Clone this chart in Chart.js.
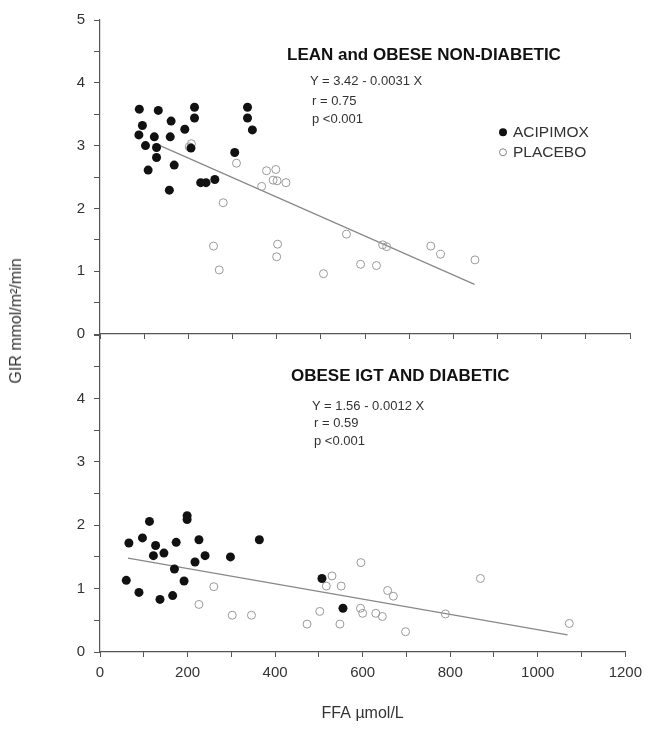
<!DOCTYPE html>
<html>
<head>
<meta charset="utf-8">
<script src="https://cdn.jsdelivr.net/npm/chart.js@4.4.1/dist/chart.umd.min.js"></script>
<style>
  body { margin: 0; background: #fff; }
  #wrap { position: relative; width: 649px; height: 729px; font-family: "Liberation Sans", Arial, sans-serif; color: #222; }
  #wrap canvas { position: absolute; left: 0; top: 0; }
  .txt { position: absolute; white-space: nowrap; line-height: 1; transform: translateY(-50%); }
  .title { font-weight: bold; font-size: 17px; color: #111; }
  .stat { font-size: 13px; color: #333; }
  .leg { font-size: 15.5px; color: #333; }
  .dot { display: inline-block; width: 8px; height: 8px; border-radius: 50%; margin-right: 6px; vertical-align: 1px; box-sizing: border-box; }
  #ytitle { position: absolute; left: 16px; top: 321px; font-size: 16px; color: #333; white-space: nowrap; transform: translate(-50%, -50%) rotate(-90deg); }
</style>
</head>
<body>
<div id="wrap">
  <canvas id="topChart" width="649" height="729"></canvas>
  <canvas id="botChart" width="649" height="729"></canvas>

  <div class="txt title" style="left:287px; top:54px;">LEAN and OBESE NON-DIABETIC</div>
  <div class="txt stat" style="left:310px; top:80px;">Y = 3.42 - 0.0031 X</div>
  <div class="txt stat" style="left:312px; top:100px;">r = 0.75</div>
  <div class="txt stat" style="left:312px; top:118px;">p &lt;0.001</div>
  <div class="txt leg" style="left:499px; top:132px;"><span class="dot" style="background:#111"></span>ACIPIMOX</div>
  <div class="txt leg" style="left:499px; top:152px;"><span class="dot" style="border:1px solid #888"></span>PLACEBO</div>

  <div class="txt title" style="left:291px; top:375px;">OBESE IGT AND DIABETIC</div>
  <div class="txt stat" style="left:312px; top:405px;">Y = 1.56 - 0.0012 X</div>
  <div class="txt stat" style="left:314px; top:422px;">r = 0.59</div>
  <div class="txt stat" style="left:314px; top:440px;">p &lt;0.001</div>

  <div id="ytitle">GIR mmol/m²/min</div>
</div>
<script>
// lean and obese non-diabetic
const topAciX = [89, 132, 214, 214, 334, 334, 345, 161, 192, 96, 88, 123, 159, 103, 128, 206, 128, 305, 109, 168, 157, 228, 240, 260];
const topAciY = [3.58, 3.56, 3.61, 3.44, 3.61, 3.44, 3.25, 3.39, 3.26, 3.32, 3.17, 3.14, 3.14, 3.0, 2.97, 2.96, 2.81, 2.89, 2.61, 2.69, 2.29, 2.41, 2.41, 2.46];
const topPlaX = [202, 207, 309, 377, 398, 392, 401, 421, 366, 279, 257, 270, 402, 400, 506, 558, 640, 649, 590, 626, 749, 771, 849];
const topPlaY = [2.98, 3.03, 2.72, 2.60, 2.62, 2.45, 2.44, 2.41, 2.35, 2.09, 1.40, 1.02, 1.43, 1.23, 0.96, 1.59, 1.42, 1.39, 1.11, 1.09, 1.40, 1.27, 1.18];
const topFitX = [136, 848];
const topFitY = [3.0, 0.79];

// obese IGT and diabetic
const botAciX = [66, 60, 89, 97, 113, 127, 122, 146, 137, 174, 170, 166, 192, 199, 199, 226, 217, 240, 298, 364, 507, 555];
const botAciY = [1.72, 1.13, 0.94, 1.80, 2.06, 1.68, 1.52, 1.56, 0.83, 1.73, 1.31, 0.89, 1.12, 2.15, 2.09, 1.77, 1.42, 1.52, 1.50, 1.77, 1.16, 0.69];
const botPlaX = [260, 226, 302, 346, 473, 502, 517, 530, 551, 548, 596, 595, 600, 630, 645, 657, 670, 698, 789, 869, 1072];
const botPlaY = [1.03, 0.75, 0.58, 0.58, 0.44, 0.64, 1.04, 1.20, 1.04, 0.44, 1.41, 0.69, 0.61, 0.61, 0.56, 0.97, 0.88, 0.32, 0.60, 1.16, 0.45];
const botFitX = [64, 1068];
const botFitY = [1.48, 0.27];

const xTicks = [0, 200, 400, 600, 800, 1000, 1200];
const yTicks = [0, 1, 2, 3, 4, 5];

const pts = (xs, ys) => xs.map((x, i) => ({ x: x, y: ys[i] }));
const axisColor = "#555";
const tickFont = { family: "Liberation Sans", size: 15 };

function makeChart(id, aciX, aciY, plaX, plaY, fitX, fitY, isBottom) {
  return new Chart(document.getElementById(id), {
    type: "scatter",
    data: {
      datasets: [
        {
          data: pts(aciX, aciY),
          pointRadius: 4.5,
          backgroundColor: "#111",
          borderColor: "#111",
          borderWidth: 0,
        },
        {
          data: pts(plaX, plaY),
          pointRadius: 4,
          backgroundColor: "rgba(255,255,255,0)",
          borderColor: "#999",
          borderWidth: 1,
        },
        {
          type: "line",
          data: pts(fitX, fitY),
          showLine: true,
          pointRadius: 0,
          borderColor: "#888",
          borderWidth: 1.2,
        },
      ],
    },
    options: {
      responsive: false,
      animation: false,
      layout: {
        padding: isBottom
          ? { top: 335, left: 0, right: 19, bottom: 0 }
          : { top: 20, left: 0, right: 19, bottom: 389 },
      },
      plugins: { legend: { display: false }, tooltip: { enabled: false } },
      scales: {
        x: {
          type: "linear",
          min: 0,
          max: 1200,
          afterFit: (s) => { s.height = isBottom ? 77 : 6; },
          border: { display: true, color: axisColor, width: 1.2 },
          grid: { drawOnChartArea: false, drawTicks: true, tickLength: 5, color: axisColor },
          ticks: {
            display: isBottom,
            stepSize: 100,
            padding: 7,
            color: "#333",
            font: tickFont,
            maxRotation: 0,
            callback: (v) => (xTicks.includes(v) ? v : ""),
          },
          title: {
            display: isBottom,
            text: "FFA µmol/L",
            color: "#333",
            font: { family: "Liberation Sans", size: 16 },
            padding: { top: 0, bottom: 6 },
          },
        },
        y: {
          min: 0,
          max: 5,
          afterFit: (s) => { s.width = 100; },
          border: { display: true, color: axisColor, width: 1.2 },
          grid: { drawOnChartArea: false, drawTicks: true, tickLength: 6, color: axisColor },
          ticks: {
            stepSize: 0.5,
            padding: 9,
            color: "#333",
            font: tickFont,
            callback: (v) => (yTicks.includes(v) && !(isBottom && v === 5) ? v : ""),
          },
        },
      },
    },
  });
}

makeChart("topChart", topAciX, topAciY, topPlaX, topPlaY, topFitX, topFitY, false);
makeChart("botChart", botAciX, botAciY, botPlaX, botPlaY, botFitX, botFitY, true);
</script>
</body>
</html>
